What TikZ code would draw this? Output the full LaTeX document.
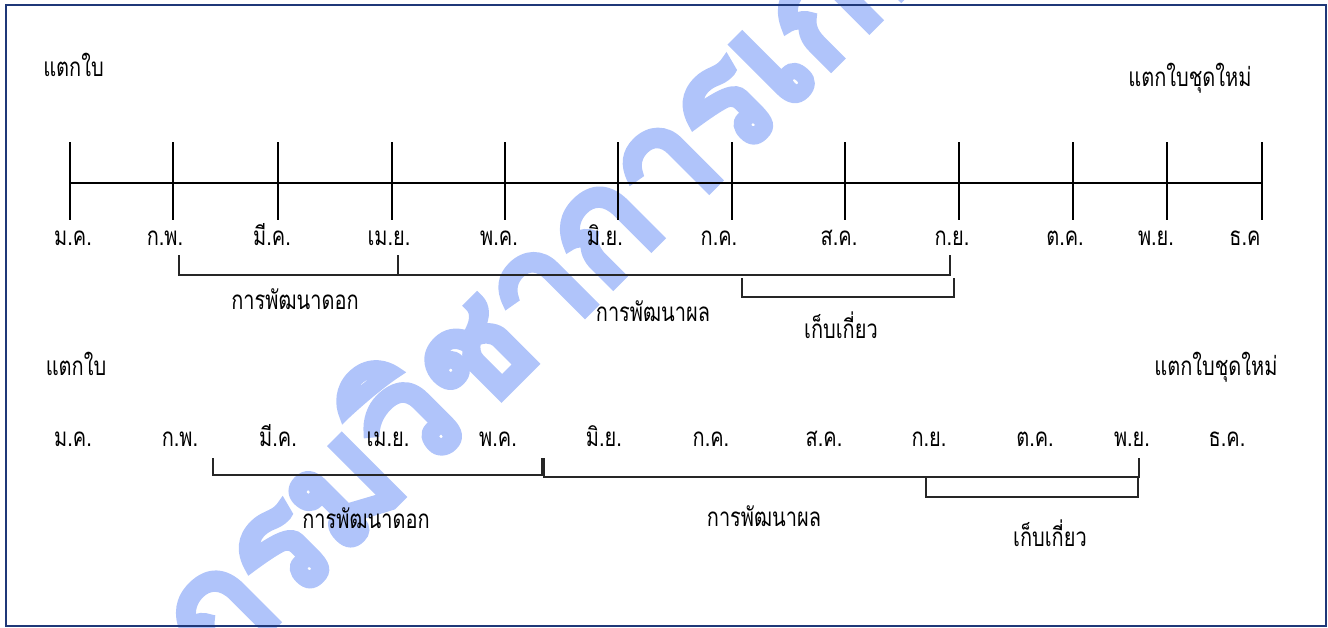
\documentclass[tikz,border=0pt]{standalone}
\usepackage{graphicx}
\usepackage{fontspec}
\setmainfont[Script=Thai]{Loma}
\newfontfamily\wmfont[Script=Thai,FakeBold=6]{Loma}
\definecolor{framec}{RGB}{31,56,120}
\definecolor{wmc}{RGB}{176,196,250}
\newcommand\tx[1]{\scalebox{1}[1.3]{#1}}
\begin{document}
\begin{tikzpicture}[x=0.75pt,y=-0.75pt,
  lbl/.style={anchor=base,inner sep=0pt,font=\fontsize{15}{18}\selectfont},
  wm/.style={anchor=base,inner sep=0pt,rotate=45,text=wmc,font=\wmfont\fontsize{113}{124}\selectfont},
  axis/.style={line width=1.6pt,black},
  brk/.style={line width=1.1pt,black!85}]
\useasboundingbox (0,0) rectangle (1328,628);
\begin{scope}
\clip (0,0) rectangle (1328,628);
\node[wm] (wm) at (651,247) {กรมวิชาการเกษตร};
\end{scope}
\draw[framec,line width=2pt] (6,5) rectangle (1326,626);
% top timeline
\foreach \x [count=\i] in {70,173,278,392,505,618,732,845,959,1073,1167,1262} {
  \coordinate (tt\i) at (\x,183);
  \coordinate (tu\i) at (\x,142);
  \coordinate (td\i) at (\x,220);
  \draw[axis] (tu\i) -- (td\i);
}
\draw[axis] (tt1) -- (tt12);
\foreach \m/\x [count=\i] in {ม.ค./73,ก.พ./165,มี.ค./272,เม.ย./389,พ.ค./499,มิ.ย./605,ก.ค./719,ส.ค./839,ก.ย./952,ต.ค./1065,พ.ย./1156,ธ.ค/1245}
  \node[lbl] (mt\i) at (\x,245) {\tx{\m}};
\foreach \m/\x [count=\i] in {ม.ค./73,ก.พ./180,มี.ค./278,เม.ย./388,พ.ค./498,มิ.ย./604,ก.ค./711,ส.ค./824,ก.ย./929,ต.ค./1035,พ.ย./1132,ธ.ค./1227}
  \node[lbl] (mb\i) at (\x,446) {\tx{\m}};
% top labels
\node[lbl] (leafT) at (73.5,76) {\tx{แตกใบ}};
\node[lbl] (newT) at (1190,86) {\tx{แตกใบชุดใหม่}};
\node[lbl] (flT) at (295,309) {\tx{การพัฒนาดอก}};
\node[lbl] (frT) at (653,321) {\tx{การพัฒนาผล}};
\node[lbl] (hvT) at (841,338) {\tx{เก็บเกี่ยว}};
% bottom labels
\node[lbl] (leafB) at (76,375) {\tx{แตกใบ}};
\node[lbl] (newB) at (1216,375) {\tx{แตกใบชุดใหม่}};
\node[lbl] (flB) at (366,528) {\tx{การพัฒนาดอก}};
\node[lbl] (frB) at (764,526) {\tx{การพัฒนาผล}};
\node[lbl] (hvB) at (1050,546) {\tx{เก็บเกี่ยว}};
% top brackets
\coordinate (a1) at (179,255); \coordinate (a2) at (179,275);
\coordinate (a3) at (398,275); \coordinate (a4) at (398,255);
\draw[brk] (a1) -- (a2) -- (a3) -- (a4);
\coordinate (b1) at (398,255); \coordinate (b2) at (398,275);
\coordinate (b3) at (950,275); \coordinate (b4) at (950,255);
\draw[brk] (b1) -- (b2) -- (b3) -- (b4);
\coordinate (c1) at (742,278); \coordinate (c2) at (742,297);
\coordinate (c3) at (954,297); \coordinate (c4) at (954,278);
\draw[brk] (c1) -- (c2) -- (c3) -- (c4);
% bottom brackets
\coordinate (d1) at (213,458); \coordinate (d2) at (213,475);
\coordinate (d3) at (542,475); \coordinate (d4) at (542,458);
\draw[brk] (d1) -- (d2) -- (d3) -- (d4);
\coordinate (e1) at (544,458); \coordinate (e2) at (544,477);
\coordinate (e3) at (1139,477); \coordinate (e4) at (1139,458);
\draw[brk] (e1) -- (e2) -- (e3) -- (e4);
\coordinate (f1) at (926,477); \coordinate (f2) at (926,497);
\coordinate (f3) at (1138,497); \coordinate (f4) at (1138,477);
\draw[brk] (f1) -- (f2) -- (f3) -- (f4);
\end{tikzpicture}
\end{document}
